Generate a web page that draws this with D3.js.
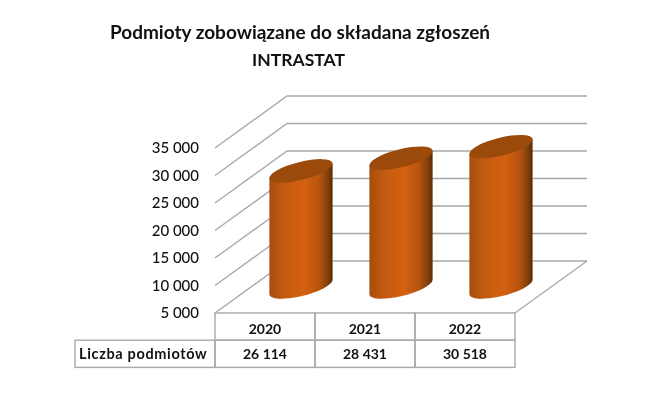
<!DOCTYPE html>
<html>
<head>
<meta charset="utf-8">
<script src="https://cdn.jsdelivr.net/npm/d3@7"></script>
<style>
  html, body { margin: 0; background: #fff; }
  svg { display: block; filter: blur(0.35px); }
  text { font-family: Lato, "Open Sans", sans-serif; fill: #111; }
</style>
</head>
<body>
<script>
const years = ['2020', '2021', '2022'];
const counts = [26114, 28431, 30518];
const yTicks = [5000, 10000, 15000, 20000, 25000, 30000, 35000];
const rowLabel = 'Liczba podmiotów';
const titleLines = ['Podmioty zobowiązane do składana zgłoszeń', 'INTRASTAT'];

const width = 669, height = 394;
const depthX = 72, depthY = -52;
const gridColor = '#a9a9a9';

// numbers are written with a space between thousands
const fmt = d => d3.format(',')(d).replace(/,/g, ' ');

const x = d3.scaleBand().domain(years).range([215, 515]);
const y = d3.scaleLinear().domain([5000, 35000]).range([313, 148]);

const svg = d3.select('body').append('svg')
  .attr('width', width)
  .attr('height', height);

const grad = svg.append('defs').append('linearGradient')
  .attr('id', 'body-grad');
[[0, '#a44e0e'], [0.22, '#c25a10'], [0.55, '#d46110'], [0.78, '#b95410'], [0.92, '#84400b'], [1, '#5c2a05']]
  .forEach(s => grad.append('stop').attr('offset', s[0]).attr('stop-color', s[1]));

svg.append('g')
  .selectAll('text')
  .data(titleLines)
  .join('text')
  .text(d => d)
  .attr('x', (d, i) => i ? 298.5 : 300)
  .attr('y', (d, i) => 39 + i * 26.5)
  .attr('text-anchor', 'middle')
  .style('font-size', (d, i) => i ? '17.5px' : '19px')
  .style('font-weight', 700);

// walls
const grid = svg.append('g')
  .attr('fill', 'none')
  .attr('stroke', gridColor)
  .attr('stroke-width', 1.4);

grid.selectAll('path')
  .data(yTicks)
  .join('path')
  .attr('d', d => {
    const p = d3.path();
    p.moveTo(x.range()[0], y(d));
    p.lineTo(x.range()[0] + depthX, y(d) + depthY);
    p.lineTo(x.range()[1] + depthX, y(d) + depthY);
    return p.toString();
  });

// right edge of the floor
grid.append('line')
  .attr('x1', x.range()[1])
  .attr('y1', y(5000))
  .attr('x2', x.range()[1] + depthX)
  .attr('y2', y(5000) + depthY);

const axisY = d3.axisLeft(y)
  .tickValues(yTicks)
  .tickSize(0)
  .tickPadding(16)
  .tickFormat(fmt);

svg.append('g')
  .attr('transform', `translate(${x.range()[0]}, 0)`)
  .call(axisY)
  .call(g => g.select('.domain').remove())
  .selectAll('text')
  .style('font-family', 'Lato, "Open Sans", sans-serif')
  .style('font-size', '15px')
  .style('font-weight', 500);

// cylinders
const rx = 32.5, ry = 9, tilt = -14;
const rad = tilt * Math.PI / 180;
const t0 = Math.atan2(-ry * Math.sin(rad), rx * Math.cos(rad));
const edgeX = rx * Math.cos(t0) * Math.cos(rad) - ry * Math.sin(t0) * Math.sin(rad);
const edgeY = rx * Math.cos(t0) * Math.sin(rad) + ry * Math.sin(t0) * Math.cos(rad);

const cx = d => x(d) + x.bandwidth() / 2 + depthX / 2;
const base = y(5000) + depthY / 2;

const bars = svg.append('g')
  .selectAll('g')
  .data(years.map((d, i) => ({year: d, value: counts[i]})))
  .join('g');

bars.append('path')
  .attr('fill', 'url(#body-grad)')
  .attr('d', d => {
    const c = cx(d.year);
    const top = y(d.value) + depthY / 2;
    return `M${c - edgeX},${top - edgeY}` +
      `L${c - edgeX},${base - edgeY}` +
      `A${rx},${ry} ${tilt} 0 0 ${c + edgeX},${base + edgeY}` +
      `L${c + edgeX},${top + edgeY}Z`;
  });

bars.append('ellipse')
  .attr('rx', rx)
  .attr('ry', ry)
  .attr('fill', '#9c4a0c')
  .attr('transform', d => `translate(${cx(d.year)},${y(d.value) + depthY / 2}) rotate(${tilt})`);

// data table under the chart
const tableTop = y(5000), rowH = 27.2, labelLeft = 75;
const table = svg.append('g')
  .attr('fill', 'none')
  .attr('stroke', gridColor)
  .attr('stroke-width', 1.4);

table.selectAll('.year-cell')
  .data(years)
  .join('rect')
  .attr('class', 'year-cell')
  .attr('x', d => x(d))
  .attr('y', tableTop)
  .attr('width', x.bandwidth())
  .attr('height', rowH);

table.selectAll('.value-cell')
  .data(years)
  .join('rect')
  .attr('class', 'value-cell')
  .attr('x', d => x(d))
  .attr('y', tableTop + rowH)
  .attr('width', x.bandwidth())
  .attr('height', rowH);

table.append('rect')
  .attr('x', labelLeft)
  .attr('y', tableTop + rowH)
  .attr('width', x.range()[0] - labelLeft)
  .attr('height', rowH);

const cellText = svg.append('g')
  .attr('text-anchor', 'middle')
  .style('font-size', '14px')
  .style('font-weight', 700);

cellText.selectAll('.year')
  .data(years)
  .join('text')
  .attr('class', 'year')
  .text(d => d)
  .attr('x', d => x(d) + x.bandwidth() / 2)
  .attr('y', tableTop + 21);

cellText.selectAll('.count')
  .data(counts)
  .join('text')
  .attr('class', 'count')
  .text(d => fmt(d))
  .attr('x', (d, i) => x(years[i]) + x.bandwidth() / 2)
  .attr('y', tableTop + rowH + 19);

svg.append('text')
  .text(rowLabel)
  .attr('x', 79)
  .attr('y', tableTop + rowH + 19)
  .style('font-size', '14.5px')
  .style('font-weight', 700)
  .style('letter-spacing', '0.65px');
</script>
</body>
</html>
